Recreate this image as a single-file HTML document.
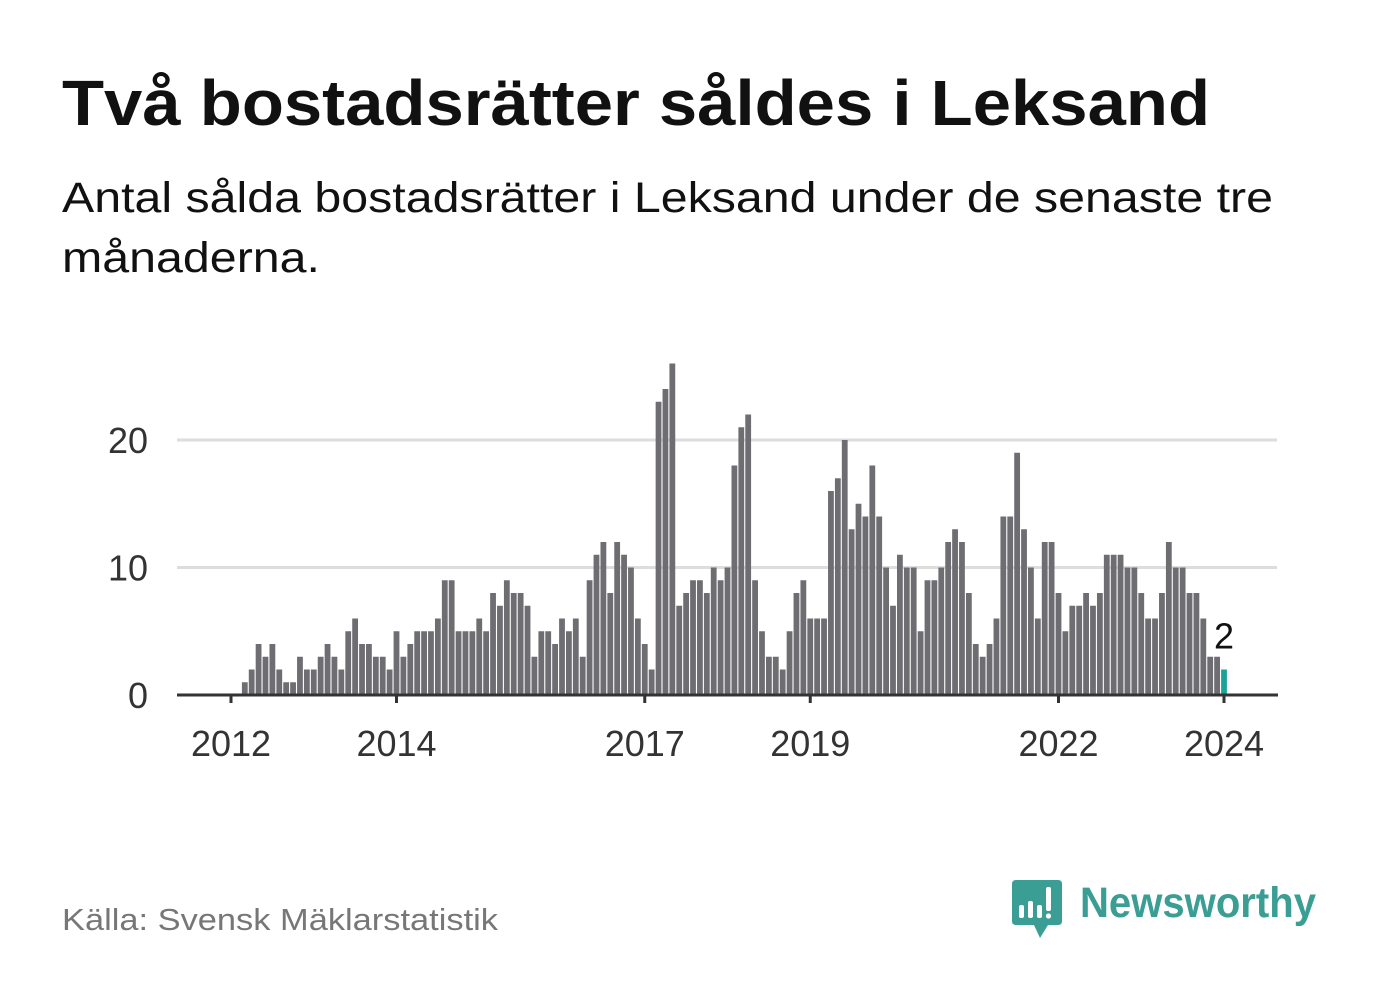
<!DOCTYPE html>
<html><head><meta charset="utf-8"><style>
html,body{margin:0;padding:0;background:#fff;}
svg{display:block;font-family:"Liberation Sans",sans-serif;}
</style></head><body>
<svg width="1382" height="999" viewBox="0 0 1382 999">
<text x="62" y="125" font-size="64" font-weight="bold" fill="#111" textLength="1148" lengthAdjust="spacingAndGlyphs">Två bostadsrätter såldes i Leksand</text>
<text x="62" y="212" font-size="43" fill="#111" textLength="1211" lengthAdjust="spacingAndGlyphs">Antal sålda bostadsrätter i Leksand under de senaste tre</text>
<text x="62" y="272" font-size="43" fill="#111" textLength="258" lengthAdjust="spacingAndGlyphs">månaderna.</text>
<g id="grid"></g>
<g id="bars"></g>
<g id="axes"></g>
<text x="62" y="930" font-size="31" fill="#777" textLength="436" lengthAdjust="spacingAndGlyphs">Källa: Svensk Mäklarstatistik</text>
<g>
<path d="M1016 880 H1058 Q1062 880 1062 884 V921 Q1062 925 1058 925 H1048 L1040 938 L1034 925 H1016 Q1012 925 1012 921 V884 Q1012 880 1016 880 Z" fill="#3a9e94"/>
<rect x="1019" y="905" width="5" height="13" rx="2" fill="#fff"/>
<rect x="1028" y="901" width="5" height="17" rx="2" fill="#fff"/>
<rect x="1037" y="905" width="5" height="13" rx="2" fill="#fff"/>
<rect x="1046" y="887" width="5" height="24" rx="2" fill="#fff"/>
<circle cx="1048.5" cy="916" r="2.6" fill="#fff"/>
<text x="1080" y="917" font-size="43" font-weight="bold" fill="#3a9e94" textLength="236" lengthAdjust="spacingAndGlyphs">Newsworthy</text>
</g>
</svg>
<script>
const values = [1,2,4,3,4,2,1,1,3,2,2,3,4,3,2,5,6,4,4,3,3,2,5,3,4,5,5,5,6,9,9,
5,5,5,6,5,8,7,9,8,8,7,3,5,5,4,6,5,6,3,9,11,12,8,12,11,10,6,4,2,23,24,26,7,8,9,9,
8,10,9,10,18,21,22,9,5,3,3,2,5,8,9,6,6,6,16,17,20,13,15,14,18,14,10,7,11,10,10,5,9,9,10,12,
13,12,8,4,3,4,6,14,14,19,13,10,6,12,12,8,5,7,7,8,7,8,11,11,11,10,10,8,6,6,8,12,10,10,8,8,6,3,3,2];
const startMonth = 2; // months after Jan 2012
const yTicks = [0,10,20];
const xTickYears = [2012,2014,2017,2019,2022,2024];
const NS = "http://www.w3.org/2000/svg";
const x = m => 231 + m * (1224 - 231) / 144;
const y = v => 695 - v * 12.75;
function mk(tag, attrs, parent){const e=document.createElementNS(NS,tag);for(const k in attrs)e.setAttribute(k,attrs[k]);parent.appendChild(e);return e;}
const grid=document.getElementById('grid'), bars=document.getElementById('bars'), axes=document.getElementById('axes');
yTicks.forEach(t=>{
  if(t>0){const l=mk('line',{x1:177,x2:1277,y1:y(t),y2:y(t),stroke:'#ddd','stroke-width':3},grid);
  
  }
  const tx=mk('text',{x:148,y:y(t)+13,'font-size':36,fill:'#333','text-anchor':'end'},axes);
  tx.textContent=t;
  
  
});
values.forEach((v,i)=>{
  const m=startMonth+i, last=i===values.length-1;
  const r=mk('rect',{x:x(m)-2.9,y:y(v),width:5.8,height:695-y(v),fill:last?'#1aa396':'#6e6d72'},bars);
  
  
});
const lv=values[values.length-1], lm=startMonth+values.length-1;
const lab=mk('text',{x:x(lm),y:y(lv)-21,'font-size':36,fill:'#111','text-anchor':'middle'},axes);
lab.textContent=lv;


const ax=mk('line',{x1:177,x2:1278,y1:695,y2:695,stroke:'#333','stroke-width':3},axes);


xTickYears.forEach(yr=>{
  const m=(yr-2012)*12;
  const t=mk('line',{x1:x(m),x2:x(m),y1:695,y2:703,stroke:'#333','stroke-width':3},axes);
  
  
  const tx=mk('text',{x:x(m),y:756,'font-size':36,fill:'#333','text-anchor':'middle'},axes);
  tx.textContent=yr;
  
  
});
</script>
</body></html>
